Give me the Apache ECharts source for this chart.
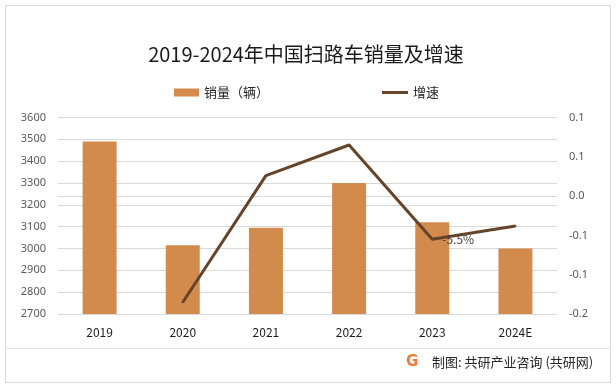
<!DOCTYPE html>
<html>
<head>
<meta charset="utf-8">
<script src="https://cdn.jsdelivr.net/npm/echarts@6/dist/echarts.min.js"></script>
<style>
html,body{margin:0;padding:0;background:#fff;}
#c{width:616px;height:391px;}
</style>
</head>
<body>
<div id="c"></div>
<script>
var categories = ['2019', '2020', '2021', '2022', '2023', '2024E'];
var salesValues = [3490, 3015, 3095, 3300, 3120, 3000];
var growthValues = [null, -0.135, 0.026, 0.065, -0.055, -0.038];
var growthLabels = [null, null, null, null, '-5.5%', null];
var titleText = '2019-2024年中国扫路车销量及增速';
var sourceText = '制图: 共研产业咨询 (共研网)';

var FONT = '"Noto Sans CJK SC", "Microsoft YaHei", sans-serif';
var chart = echarts.init(document.getElementById('c'), null, {renderer: 'canvas'});

var lineData = growthValues.map(function (v, i) {
  if (growthLabels[i]) {
    return {value: v, label: {show: true, formatter: growthLabels[i]}};
  }
  return v;
});

var option = {
  backgroundColor: '#fff',
  animation: false,
  textStyle: {fontFamily: FONT},
  title: {
    text: titleText,
    left: 301,
    top: 39,
    textAlign: 'center',
    textStyle: {fontSize: 20, fontWeight: 'normal', color: '#1a1a1a', fontFamily: FONT}
  },
  legend: [{
    left: 169,
    top: 81,
    itemWidth: 25,
    itemHeight: 8,
    icon: 'rect',
    textStyle: {fontSize: 13, color: '#262626', fontFamily: FONT},
    data: ['销量（辆）']
  }, {
    left: 377,
    top: 81,
    itemWidth: 26,
    itemHeight: 3,
    icon: 'rect',
    textStyle: {fontSize: 13, color: '#262626', fontFamily: FONT},
    data: ['增速']
  }],
  grid: {left: 58, right: 59, top: 117.5, bottom: 77},
  xAxis: {
    type: 'category',
    data: categories,
    axisLine: {lineStyle: {color: '#d9d9d9'}},
    axisTick: {show: false},
    axisLabel: {color: '#1a1a1a', fontSize: 12, margin: 12, fontFamily: FONT}
  },
  yAxis: [{
    type: 'value',
    min: 2700,
    max: 3600,
    interval: 100,
    axisLine: {show: false},
    axisTick: {show: false},
    axisLabel: {color: '#595959', fontSize: 11, margin: 12, fontFamily: '"Noto Sans", sans-serif',
      formatter: function (v) { return String(v); }},
    splitLine: {lineStyle: {color: '#d9d9d9'}}
  }, {
    type: 'value',
    min: -0.15,
    max: 0.1,
    interval: 0.05,
    axisLine: {show: false},
    axisTick: {show: false},
    splitLine: {show: false},
    axisLabel: {
      color: '#595959', fontSize: 11, margin: 12, fontFamily: '"Noto Sans", sans-serif',
      formatter: function (v) {
        var s = v < 0 ? -1 : 1;
        var r = Math.round(Math.abs(v) * 10 + 1e-9) / 10;
        return (s * r).toFixed(1);
      }
    }
  }],
  series: [{
    name: '销量（辆）',
    type: 'bar',
    data: salesValues,
    barWidth: 34,
    itemStyle: {color: '#D38B4D'}
  }, {
    name: '增速',
    type: 'line',
    yAxisIndex: 1,
    data: lineData,
    symbol: 'circle',
    symbolSize: 2,
    showSymbol: true,
    lineStyle: {color: '#654429', width: 3},
    itemStyle: {color: '#654429'},
    label: {show: false, position: 'right', distance: 9, color: '#404040', fontSize: 12, fontFamily: FONT}
  }],
  graphic: [
    {type: 'rect', shape: {x: 5.5, y: 5.5, width: 605, height: 377}, style: {fill: 'none', stroke: '#d9d9d9', lineWidth: 1}, z: 0},
    {type: 'line', shape: {x1: 5.5, y1: 348.5, x2: 610.5, y2: 348.5}, style: {stroke: '#e3e3e3', lineWidth: 1}},
    {type: 'text', left: 406, top: 355, style: {text: 'G', fill: '#F07A3A', font: 'bold 15px "DejaVu Sans", sans-serif'}},
    {type: 'text', left: 432, top: 356, style: {text: sourceText, fill: '#262626', font: '13px ' + FONT}}
  ]
};
chart.setOption(option);
</script>
</body>
</html>
